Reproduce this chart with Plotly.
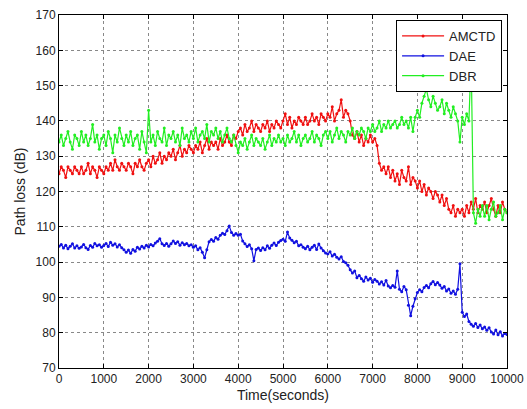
import plotly.graph_objects as go

# Time axis: one sample every 50 s from 0 to 10000 s
time_s = list(range(0, 10001, 50))

amctd = [
    125, 127, 126, 124, 127, 126, 125, 127, 126, 125,
    127, 125, 126, 128, 125, 127, 126, 124, 127, 126,
    125, 127, 126, 128, 126, 129, 127, 126, 128, 127,
    126, 128, 127, 125, 128, 127, 129, 127, 126, 128,
    129, 127, 130, 128, 129, 131, 128, 130, 129, 131,
    130, 132, 129, 131, 133, 130, 132, 131, 133, 132,
    131, 133, 132, 134, 131, 133, 135, 132, 134, 133,
    134, 132, 135, 133, 134, 136, 134, 133, 136, 135,
    137, 138, 136, 139, 137, 138, 140, 137, 139, 138,
    137, 139, 138, 140, 137, 139, 138, 140, 139, 138,
    140, 142, 139, 141, 138, 140, 139, 141, 140, 139,
    141, 139, 140, 142, 140, 141, 139, 142, 141, 140,
    142, 141, 144, 140, 142, 143, 146, 141, 143, 142,
    140, 136, 135, 137, 134, 136, 133, 135, 134, 136,
    134, 135, 133, 128, 126, 127, 125, 127, 124, 126,
    123, 125, 122, 126, 124, 123, 127, 122, 124, 123,
    121, 123, 120, 122, 119, 121, 120, 118, 120, 119,
    117, 119, 116, 118, 115, 114, 116, 113, 115, 114,
    115, 113, 116, 114, 117, 115, 118, 114, 116, 115,
    117, 114, 116, 118, 115, 113, 116, 114, 117, 115,
    114,
]

dae = [
    104.5, 105.0, 104.0, 104.8, 103.8, 104.5, 105.2, 104.0, 104.6, 103.9,
    104.3, 105.0, 104.1, 103.6, 104.7, 104.2, 105.3, 104.6, 104.9, 104.2,
    104.7, 105.3, 104.4, 105.6, 104.8, 105.2, 104.3, 104.9, 104.1, 103.5,
    102.8, 103.4, 102.5, 103.6, 103.1, 104.2, 103.7, 104.5, 104.0, 104.8,
    104.3, 105.0, 104.6, 105.4, 105.9, 106.6, 105.2, 104.7, 105.3, 104.5,
    105.2, 106.0, 105.3, 105.8, 104.8, 105.5, 104.9, 105.3, 104.6, 104.9,
    104.2, 104.6, 103.5, 104.1, 102.8, 101.2, 103.5, 105.8, 106.4, 105.9,
    107.0, 106.5, 107.6, 108.2, 107.8, 108.9, 110.2, 108.4, 107.6, 108.1,
    107.6, 107.9, 106.0, 105.2, 104.4, 104.9, 103.8, 100.4, 103.6, 104.0,
    103.3, 104.1, 103.5, 104.6, 103.9, 104.8, 105.4, 104.7, 105.6, 106.1,
    106.5, 105.9, 108.5, 106.8, 106.2, 105.5, 105.9, 104.6, 104.9, 104.2,
    103.8, 104.5, 103.5, 104.2, 104.8, 103.6, 105.1, 104.0, 103.2, 102.6,
    102.3, 102.9, 101.7, 102.2, 101.4, 100.9, 101.5, 100.2, 99.8, 99.1,
    97.8, 96.9, 97.5, 95.6, 96.2, 95.3, 94.6, 95.8, 94.9, 95.4,
    94.3, 95.1, 94.6, 93.8, 94.4, 93.5, 94.8, 93.2, 92.7, 93.4,
    92.9, 97.5, 92.3, 91.6, 93.1, 92.2, 87.8, 84.8, 87.5, 89.6,
    91.4, 92.2, 91.6, 92.8, 93.4, 92.7, 93.9, 94.5, 93.6, 94.2,
    93.5, 92.6, 93.1, 91.8, 92.4, 91.2, 91.8, 90.9, 92.3, 99.5,
    85.8, 84.6, 85.3, 83.2, 82.4, 81.8, 82.6, 81.5, 82.2, 81.1,
    81.6, 80.7, 81.4, 80.2, 79.6, 80.8, 79.4, 80.3, 79.1, 79.8,
    79.5,
]

dbr = [
    134, 136, 133, 135, 137, 134, 132, 136, 135, 133,
    137, 134, 136, 133, 135, 139, 134, 136, 132, 135,
    136, 133, 137, 135, 131, 136, 134, 138, 135, 133,
    136, 134, 137, 133, 135, 136, 132, 137, 134, 131,
    143, 134, 136, 133, 137, 135, 134, 138, 133, 136,
    135, 137, 134, 136, 133, 138, 135, 136, 134, 137,
    135, 138, 134, 136, 137, 135, 139, 134, 137, 136,
    138, 135, 137, 134, 136, 138, 135, 134, 136, 133,
    131, 134, 133, 135, 132, 134, 136, 133, 135, 134,
    133, 135, 132, 134, 136, 133, 135, 134, 136, 134,
    135, 133, 136, 134, 135, 137, 134, 136, 133, 135,
    136, 134, 135, 137, 134, 136, 135, 133, 136, 137,
    135, 137, 134, 136, 138, 135, 137, 136, 134, 137,
    136, 138, 135, 137, 136, 138, 137, 135, 138, 137,
    139, 137, 138, 140, 137, 139, 138, 140, 138, 139,
    140, 138, 139, 141, 139, 140, 138, 141, 137, 141,
    143, 141, 145, 147, 149, 146, 144, 147, 145, 143,
    144, 146, 142, 145, 143, 141, 144, 142, 140, 134,
    141, 139, 142, 140, 158, 114, 111, 115, 113, 116,
    113, 116, 112, 115, 117, 113, 114, 116, 112, 115,
    114,
]

series_names = ["AMCTD", "DAE", "DBR"]
series_colors = ["#f01010", "#1010e0", "#22ee22"]
series_values = [amctd, dae, dbr]

x_ticks = list(range(0, 10001, 1000))
x_tick_labels = [str(v) for v in x_ticks]
y_ticks = list(range(70, 171, 10))

fig = go.Figure()
for name, color, vals in zip(series_names, series_colors, series_values):
    fig.add_trace(go.Scatter(
        x=time_s, y=vals, name=name, mode="lines+markers",
        line=dict(color=color, width=1.2),
        marker=dict(color=color, size=3),
    ))

font_family = "Liberation Sans, Arial"
axis_common = dict(
    showline=True, linecolor="black", linewidth=1, mirror="allticks",
    ticks="inside", ticklen=4, tickcolor="black", automargin=False,
    showgrid=True, gridcolor="#888888", griddash="dot", gridwidth=1,
    zeroline=False, tickfont=dict(family=font_family, size=12, color="#222222"),
)

fig.update_xaxes(range=[0, 10000], tickvals=x_ticks, ticktext=x_tick_labels,
                 title=dict(text="Time(seconds)", font=dict(family=font_family, size=14, color="#222222"), standoff=4),
                 **axis_common)
fig.update_yaxes(range=[70, 170], tickvals=y_ticks,
                 title=dict(text="Path loss (dB)", font=dict(family=font_family, size=14, color="#222222"), standoff=6),
                 **axis_common)

fig.update_layout(
    width=527, height=409,
    margin=dict(l=59, r=20, t=15, b=41),
    paper_bgcolor="white", plot_bgcolor="white",
    showlegend=True,
    legend=dict(x=0.989, y=0.986, xanchor="right", yanchor="top",
                bgcolor="white", bordercolor="black", borderwidth=1,
                font=dict(family=font_family, size=13, color="#222222"),
                tracegroupgap=0, itemwidth=42),
)

fig.write_html("out.html")
